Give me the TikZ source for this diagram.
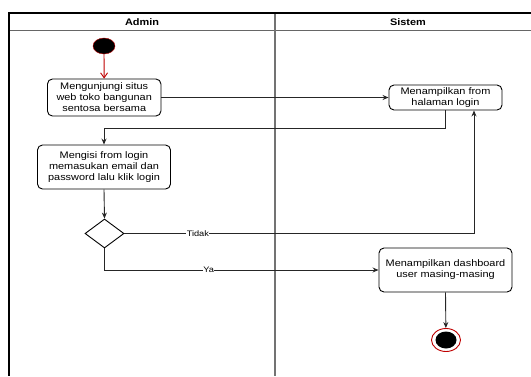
\documentclass[tikz,border=0pt]{standalone}
\usepackage{fontspec}
\newfontfamily\diagfont[FakeStretch=1.15]{Liberation Sans}
\usetikzlibrary{arrows.meta,shapes.geometric,calc}
\tikzset{
	activity/.style={draw=black, line width=0.9pt, rounded corners=5pt, align=center, inner sep=0pt,
		font=\diagfont\fontsize{9.5}{11}\selectfont},
	decision/.style={draw=black, line width=0.9pt, diamond, inner sep=0pt, minimum width=39pt, minimum height=29pt},
	flow/.style={draw=black!85, line width=0.9pt, -{Stealth[length=6pt,width=5pt]}},
	guard/.style={fill=white, inner sep=0.5pt, font=\diagfont\fontsize{8}{9}\selectfont},
	lane/.style={font=\diagfont\bfseries\fontsize{9.5}{11}\selectfont},
}

\begin{document}
\begin{tikzpicture}[x=1pt, y=-1pt]
			%%%%% START %%%%%
			\useasboundingbox (0,0) rectangle (531,376);
			
			% swimlanes
			\draw[line width=1.3pt, color=black!60] (9, 30.5) -- (531, 30.5);
			\draw[line width=1.5pt, color=black!55] (275, 13) -- (275, 376);
			\draw[line width=2pt, color=black] (9, 13) -- (531, 13);
			\draw[line width=2.6pt, color=black] (9, 12) -- (9, 376);
			\node[lane] (laneA) at (142, 22) {Admin};
			\node[lane] (laneS) at (408, 22) {Sistem};
			
			% start / end
			\node[ellipse, draw=red!75!black, fill=black, minimum width=22pt, minimum height=16pt, inner sep=0pt] (start) at (104, 46) {};
			\node[ellipse, draw=red!75!black, line width=0.9pt, fill=white, minimum width=29pt, minimum height=23pt, inner sep=0pt] (end) at (446, 340) {};
			\node[ellipse, fill=black, minimum width=21pt, minimum height=17pt, inner sep=0pt] (endcore) at (end) {};
			
			% activities
			\node[activity, minimum width=113.5pt, minimum height=37pt] (act1) at (104.2, 97.5) {Mengunjungi situs\\web toko bangunan\\sentosa bersama};
			\node[activity, minimum width=113pt, minimum height=25pt] (act2) at (445.5, 97.5) {Menampilkan from\\halaman login};
			\node[activity, minimum width=133pt, minimum height=44pt] (act3) at (104, 167) {Mengisi from login\\memasukan email dan\\password lalu klik login};
			\node[decision] (dec) at (104.5, 233.5) {};
			\node[activity, minimum width=133pt, minimum height=44pt] (act4) at (445.5, 270) {Menampilkan dashboard\\user masing-masing};
			
			\coordinate (loopA) at (104, 128);
			\coordinate (back) at (474, 128);
			
			% flows
			\draw[line width=0.9pt, color=red!75!black, -{Straight Barb[length=5pt,width=7pt]}] (start) -- (act1);
			\draw[flow] (act1.east) -- (act2.west);
			\draw[flow] (act2.south) |- (loopA) -- (act3.north);
			\draw[flow] (act3.south) -- (dec.north);
			\draw[flow] (dec.east) -- node[guard, pos=0.21] {Tidak} (dec.east -| back) -- (back |- act2.south);
			\draw[flow] (dec.south) |- node[guard, pos=0.69] {Ya} (act4.west);
			\draw[flow] (act4.south) -- (end);
			%%%%% END %%%%%
\end{tikzpicture}
\end{document}
